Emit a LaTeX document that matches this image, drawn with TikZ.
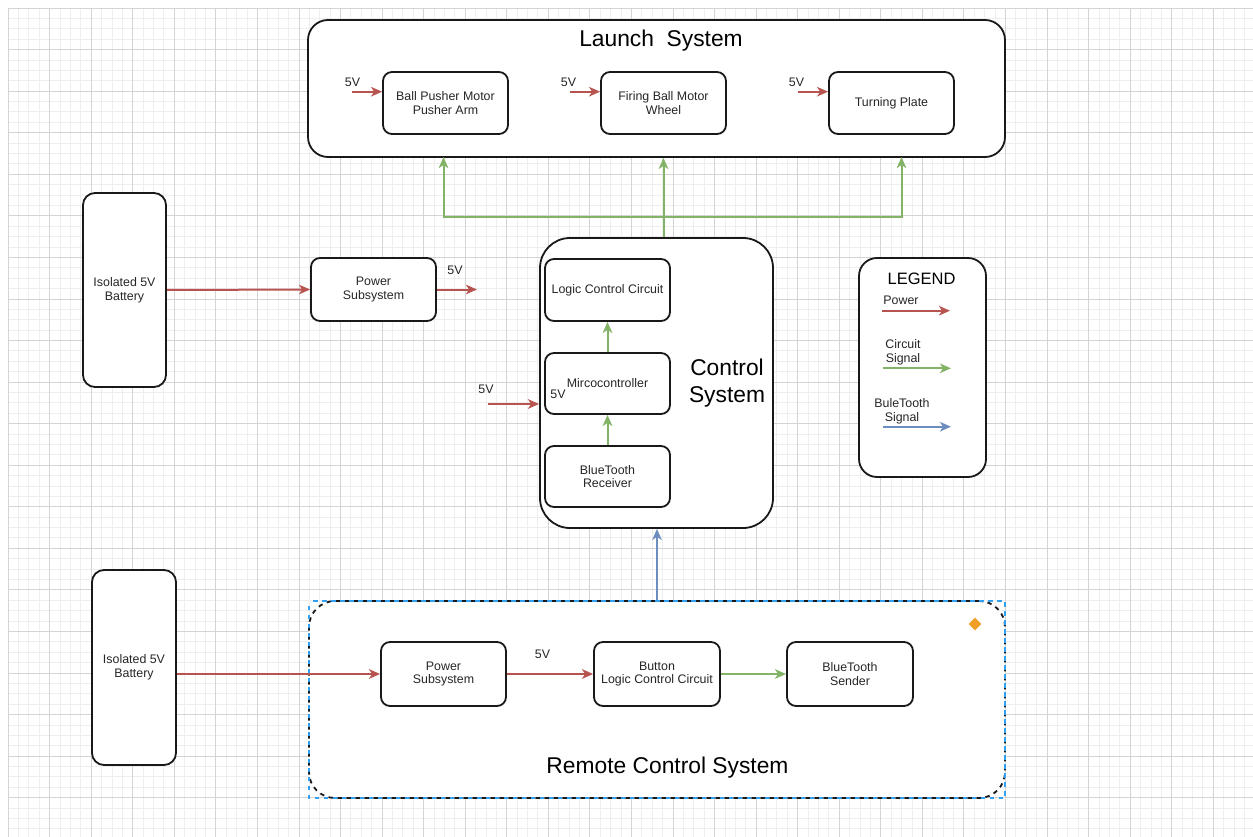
\documentclass[tikz,border=0pt]{standalone}
\usepackage{fontspec}
\setmainfont{Liberation Sans}
\usetikzlibrary{arrows.meta,shapes.geometric}

\definecolor{pwred}{HTML}{B85450}
\definecolor{siggreen}{HTML}{82B366}
\definecolor{btblue}{HTML}{6C8EBF}
\definecolor{selblue}{RGB}{50,160,240}
\definecolor{handle}{RGB}{240,160,40}
\definecolor{gridminor}{RGB}{238,238,238}
\definecolor{gridmajor}{RGB}{212,212,212}

\begin{document}
\begin{tikzpicture}[x=1pt,y=-1pt,
  blk/.style={draw=black!90, line width=1.8pt, fill=white, rounded corners=#1,
    inner sep=0pt, align=center, font=\fontsize{12.4}{13.6}\selectfont, text=black!85},
  blk/.default=9pt,
  unit/.style={blk, minimum width=125pt, minimum height=62pt},
  lbl/.style={inner sep=0pt, align=center, font=\fontsize{12.4}{13.6}\selectfont, text=black!85},
  title/.style={inner sep=0pt, align=center, font=\fontsize{22.8}{26.5}\selectfont, text=black},
  tip/.style={-{Stealth[length=11pt,width=9.5pt,inset=3pt]}},
  pw/.style={tip, draw=pwred, line width=2pt},
  sig/.style={tip, draw=siggreen, line width=2pt},
  bt/.style={tip, draw=btblue, line width=2pt}
]
% canvas and page size
\fill[white] (0,0) rectangle (1253,837);
\useasboundingbox (0,0) rectangle (1253,837);

% background grid
\foreach \i in {0,...,119}
  \draw[gridminor, line width=0.8pt] ({8+\i*10.39},8) -- ({8+\i*10.39},837);
\foreach \j in {0,...,79}
  \draw[gridminor, line width=0.8pt] (8,{8+\j*10.39}) -- (1253,{8+\j*10.39});
\foreach \i in {0,...,29}
  \draw[gridmajor, line width=0.8pt] ({8+\i*41.56},8) -- ({8+\i*41.56},837);
\foreach \j in {0,...,19}
  \draw[gridmajor, line width=0.8pt] (8,{8+\j*41.56}) -- (1253,{8+\j*41.56});

% ---------------- Launch system ----------------
\node[blk=20pt, minimum width=697pt, minimum height=137pt] (launch) at (656.5,88.5) {};
\node[title] (launchtitle) at (661,41) {Launch\ \ System};
\node[unit] (pusher) at (445.5,103) {Ball Pusher Motor\\Pusher Arm};
\node[unit] (firing) at (663.5,103) {Firing Ball Motor\\Wheel};
\node[unit] (turning) at (891.5,103) {Turning Plate};

\coordinate (in1) at (352,91.7);
\coordinate (in2) at (570,91.7);
\coordinate (in3) at (798,91.7);
\node[lbl] (v1) at (352.5,82.5) {5V};
\node[lbl] (v2) at (568.5,82.5) {5V};
\node[lbl] (v3) at (796.5,82.5) {5V};
\draw[pw] (in1) -- (in1 -| pusher.west);
\draw[pw] (in2) -- (in2 -| firing.west);
\draw[pw] (in3) -- (in3 -| turning.west);

% ---------------- Control system ----------------
\node[blk=30pt, minimum width=233pt, minimum height=290pt] (ctrl) at (656.5,383) {};
\node[title] (ctrltitle) at (727,383) {Control\\System};
\node[unit] (logic) at (607.5,290) {Logic Control Circuit};
\node[unit, minimum height=61pt] (micro) at (607.5,383.5) {Mircocontroller};
\node[unit, minimum height=61pt] (btrx) at (607.5,476.5) {BlueTooth\\Receiver};
\node[lbl] (vmicro) at (558,394.5) {5V};

\draw[sig] (btrx.north) -- (micro.south);
\draw[sig] (micro.north) -- (logic.south);

\coordinate (mcin) at (488,404);
\node[lbl] (vmcin) at (486,389) {5V};
\draw[pw] (mcin) -- (mcin -| ctrl.west);

% signals from the controller up to the launch units
\coordinate (split) at (663.5,217);
\coordinate (tapL) at (443.5,157);
\coordinate (tapR) at (901.5,157);
\draw[sig] (firing |- ctrl.north) -- (firing |- launch.south);
\draw[sig] (split) -| (tapL);
\draw[sig] (split) -| (tapR);

% ---------------- Supply, upper ----------------
\node[blk=12pt, minimum width=83pt, minimum height=194pt] (batt1) at (124.5,290) {Isolated 5V\\Battery};
\node[unit, minimum height=63pt] (pwr1) at (373.5,289.5) {Power\\Subsystem};
\draw[pw] (batt1.east) -- (pwr1.west);
\coordinate (pw1out) at (477,289.5);
\draw[pw] (pwr1.east) -- (pw1out);
\node[lbl] (vpw1) at (455,270) {5V};

% ---------------- Legend ----------------
\node[blk=18pt, minimum width=127pt, minimum height=219pt] (legend) at (922.5,367.5) {};
\node[inner sep=0pt, font=\fontsize{16.5}{18}\selectfont] (lgtitle) at (921.5,278.5) {LEGEND};
\node[lbl] (lgpow) at (901,300.5) {Power};
\node[lbl] (lgcirc) at (903,352.5) {Circuit\\Signal};
\node[lbl] (lgbt) at (902,411) {BuleTooth\\Signal};
\coordinate (lp1) at (882,310.7);
\coordinate (lp2) at (950,310.7);
\coordinate (lc1) at (883,368.3);
\coordinate (lc2) at (951,368.3);
\coordinate (lb1) at (883,426.7);
\coordinate (lb2) at (951,426.7);
\draw[pw] (lp1) -- (lp2);
\draw[sig] (lc1) -- (lc2);
\draw[bt] (lb1) -- (lb2);

% ---------------- Remote control system ----------------
\node[blk=26pt, dash pattern=on 4.5pt off 4.5pt, minimum width=696pt, minimum height=197pt] (remote) at (657,699.5) {};
\draw[selblue, line width=1.5pt, dash pattern=on 4.5pt off 4.5pt, dash phase=4.5pt]
  ([shift={(0.9,0.9)}]remote.north west) rectangle ([shift={(-0.9,-0.9)}]remote.south east);
\node[diamond, fill=handle, minimum width=13pt, minimum height=13pt, inner sep=0pt] (hdl) at (975,624) {};
\node[title] (remotetitle) at (667.5,768) {Remote Control System};

\node[unit, minimum height=64pt] (pwr2) at (443.5,674) {Power\\Subsystem};
\node[unit, minimum width=126pt, minimum height=64pt] (button) at (657,674) {Button\\Logic Control Circuit};
\node[unit, minimum width=126pt, minimum height=64pt] (btsend) at (850,674) {BlueTooth\\Sender};

\node[blk=12pt, minimum width=84pt, minimum height=195pt] (batt2) at (134,667.5) {Isolated 5V\\Battery};
\draw[pw] (batt2.east |- pwr2.west) -- (pwr2.west);
\draw[pw] (pwr2.east) -- (button.west);
\node[lbl] (vpw2) at (542.5,654) {5V};
\draw[sig] (button.east) -- (btsend.west);

% bluetooth link up to the control system
\draw[bt] (remote.north) -- (remote.north |- ctrl.south);
\end{tikzpicture}
\end{document}
